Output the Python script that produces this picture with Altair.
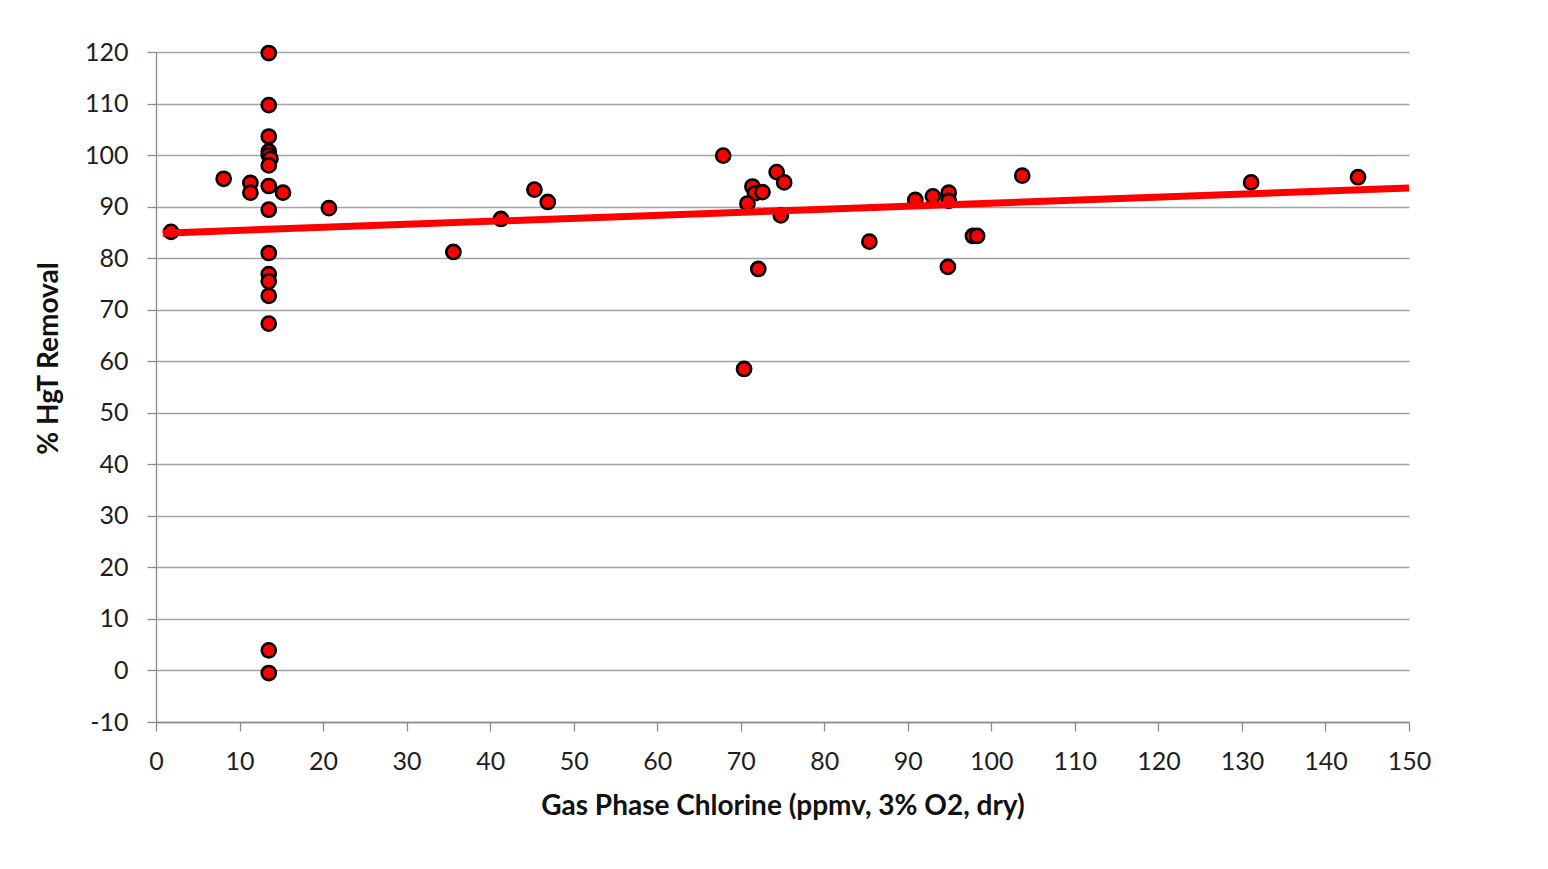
import altair as alt
import pandas as pd

chlorine = [1.8, 8.1, 11.3, 11.3, 15.2, 20.7,
            13.5, 13.5, 13.5, 13.5, 13.5, 13.7, 13.5, 13.5, 13.5, 13.5, 13.5, 13.5, 13.5, 13.5, 13.5, 13.5,
            35.6, 41.3, 45.3, 46.9,
            67.9, 74.3, 75.2, 71.4, 71.7, 72.6, 70.8, 74.8, 72.1, 70.4,
            90.9, 93.0, 94.9, 94.9, 85.4, 97.8, 98.3, 103.7, 94.8,
            131.1, 143.9]
removal = [85.1, 95.4, 94.6, 92.7, 92.7, 89.7,
           119.8, 109.7, 103.6, 100.7, 100.0, 99.3, 98.0, 94.0, 89.4, 81.0, 76.9, 75.5, 72.7, 67.3, 3.9, -0.5,
           81.2, 87.6, 93.3, 90.9,
           99.9, 96.7, 94.7, 93.9, 92.6, 92.8, 90.6, 88.3, 77.9, 58.5,
           91.3, 92.0, 92.7, 91.1, 83.2, 84.3, 84.3, 96.0, 78.3,
           94.7, 95.7]

trend_x = [0.8, 150]
trend_y = [84.85, 93.6]

x_ticks = list(range(0, 151, 10))
y_ticks = list(range(-10, 121, 10))

pts = pd.DataFrame({"x": chlorine, "y": removal})
trend = pd.DataFrame({"x": trend_x, "y": trend_y})

FONT = "Lato"
xscale = alt.Scale(domain=[0, 150], nice=False, zero=False)
yscale = alt.Scale(domain=[-10, 120], nice=False, zero=False)

xaxis = alt.Axis(values=x_ticks, grid=False, title="Gas Phase Chlorine (ppmv, 3% O2, dry)",
                 labelExpr="'' + datum.value", labelFlush=False, labelOverlap=False,
                 tickSize=9, labelPadding=18, labelFontSize=25, labelFont=FONT, labelColor="#1e1e1e",
                 titleFont=FONT, titleFontSize=28, titleFontWeight="bold", titleColor="#111",
                 titleY=84, titleBaseline="middle",
                 domainColor="#8a8a8a", tickColor="#8a8a8a", domainWidth=1.3, tickWidth=1.3)
yaxis = alt.Axis(values=y_ticks, grid=True, gridColor="#a3a3a3", gridWidth=1.3,
                 title="% HgT Removal",
                 labelExpr="'' + datum.value", labelFlush=False, labelOverlap=False,
                 tickSize=9, labelPadding=19, labelFontSize=25, labelFont=FONT, labelColor="#1e1e1e",
                 titleFont=FONT, titleFontSize=28, titleFontWeight="bold", titleColor="#111",
                 titleX=-107, titleY=306, titleBaseline="middle", titleAlign="center", titleAngle=-90,
                 domainColor="#8a8a8a", tickColor="#8a8a8a", domainWidth=1.3, tickWidth=1.3)

points = alt.Chart(pts).mark_point(filled=True, shape="circle", size=200, fill="#ff0000",
                                   stroke="#000000", strokeWidth=2.6, opacity=1).encode(
    x=alt.X("x:Q", scale=xscale, axis=xaxis),
    y=alt.Y("y:Q", scale=yscale, axis=yaxis),
)

line = alt.Chart(trend).mark_line(color="#ff0000", strokeWidth=7, strokeCap="butt").encode(
    x=alt.X("x:Q", scale=xscale),
    y=alt.Y("y:Q", scale=yscale),
)

chart = alt.layer(points, line).properties(
    width=1253, height=670,
    background="white",
    autosize=alt.AutoSizeParams(type="none"),
    padding={"left": 148, "top": 44, "right": 120, "bottom": 130},
).configure_view(stroke=None, strokeWidth=0)

chart.save("out.html", embed_options={"renderer": "svg", "actions": False})
